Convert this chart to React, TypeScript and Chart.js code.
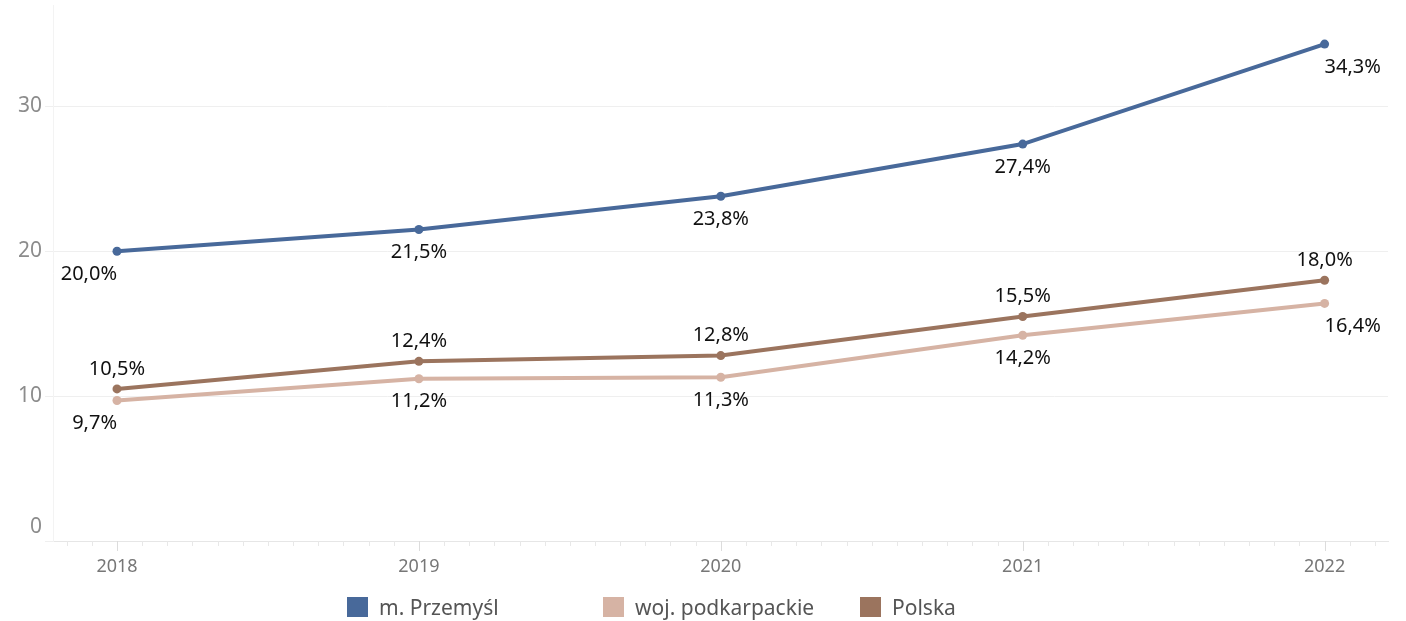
import React, { useEffect, useRef } from "react";
import { Chart, registerables } from "chart.js";

Chart.register(...registerables);

const years = [2018, 2019, 2020, 2021, 2022];
const przemysl = [20.0, 21.5, 23.8, 27.4, 34.3];
const podkarpackie = [9.7, 11.2, 11.3, 14.2, 16.4];
const polska = [10.5, 12.4, 12.8, 15.5, 18.0];
const yTickValues = [0, 10, 20, 30];
const xTickValues = [2018, 2019, 2020, 2021, 2022];
const seriesNames = ["m. Przemyśl", "woj. podkarpackie", "Polska"];
const seriesColors = ["#48699a", "#d6b3a4", "#9b745e"];
const labelSides = ["below", "below", "above"];

const fmt = (v: number) => v.toFixed(1).replace(".", ",") + "%";

const dataLabelPlugin = {
  id: "dataLabels",
  afterDatasetsDraw(chart: any) {
    const ctx = chart.ctx;
    ctx.save();
    ctx.font = '20px "Noto Sans"';
    ctx.fillStyle = "#111111";
    ctx.textBaseline = "middle";
    chart.data.datasets.forEach((ds: any, di: number) => {
      const meta = chart.getDatasetMeta(di);
      const side = labelSides[di];
      const last = meta.data.length - 1;
      meta.data.forEach((pt: any, i: number) => {
        const v = ds.data[i].y;
        let align = "center";
        if (side === "below") {
          if (i === 0) align = "right";
          else if (i === last) align = "left";
        }
        ctx.textAlign = align;
        const y = pt.y + (side === "below" ? 23 : -20);
        ctx.fillText(fmt(v), pt.x, y);
      });
    });
    ctx.restore();
  },
};

const axisDecorPlugin = {
  id: "axisDecor",
  afterDraw(chart: any) {
    const ctx = chart.ctx;
    const xs = chart.scales.x;
    const ys = chart.scales.y;
    const bottom = chart.chartArea.bottom;
    ctx.save();
    // month tick marks
    const start = Math.ceil(xs.min * 12);
    const end = Math.floor(xs.max * 12);
    for (let m = start; m <= end; m++) {
      const isMajor = m % 12 === 0;
      const px = Math.round(xs.getPixelForValue(m / 12)) + 0.5;
      ctx.strokeStyle = isMajor ? "#dcdcdc" : "#e8e8e8";
      ctx.lineWidth = 1;
      ctx.beginPath();
      ctx.moveTo(px, bottom);
      ctx.lineTo(px, bottom + (isMajor ? 10 : 5));
      ctx.stroke();
    }
    // x labels
    ctx.font = '18px "Noto Sans"';
    ctx.fillStyle = "#777777";
    ctx.textAlign = "center";
    ctx.textBaseline = "middle";
    xTickValues.forEach((v) => {
      ctx.fillText(String(v), xs.getPixelForValue(v), bottom + 26);
    });
    // y labels
    ctx.font = '21px "Noto Sans"';
    ctx.fillStyle = "#8c8c8c";
    ctx.textAlign = "right";
    ctx.textBaseline = "middle";
    yTickValues.forEach((v) => {
      let py = ys.getPixelForValue(v);
      if (v === 0) py -= 14;
      ctx.fillText(String(v), 42, py);
    });
    ctx.restore();
  },
};

export default function App() {
  const canvasRef = useRef<HTMLCanvasElement | null>(null);

  useEffect(() => {
    const canvas = canvasRef.current;
    if (!canvas) return;
    const seriesValues = [przemysl, podkarpackie, polska];
    const chart = new Chart(canvas, {
      type: "line",
      data: {
        datasets: seriesValues.map((vals, si) => ({
          label: seriesNames[si],
          data: years.map((yr, i) => ({ x: yr, y: vals[i] })),
          borderColor: seriesColors[si],
          backgroundColor: seriesColors[si],
          pointBackgroundColor: seriesColors[si],
          pointBorderColor: seriesColors[si],
          borderWidth: 4,
          pointRadius: 4.5,
          pointBorderWidth: 0,
          tension: 0,
          fill: false,
        })),
      },
      options: {
        animation: false,
        responsive: false,
        maintainAspectRatio: false,
        layout: { padding: { top: 5, right: 18, left: 0, bottom: 0 } },
        plugins: {
          legend: { display: false },
          tooltip: { enabled: false },
          title: { display: false },
        },
        scales: {
          x: {
            type: "linear",
            min: 2017.788,
            max: 2022.21,
            grid: { display: false, drawTicks: false },
            border: { display: true, color: "#e6e6e6", width: 1 },
            ticks: { display: false, stepSize: 1 },
            afterFit: (s: any) => {
              s.height = 80;
            },
          },
          y: {
            min: 0,
            max: 37,
            grid: {
              color: (c: any) =>
                c.tick && c.tick.value % 10 === 0 ? "#efefef" : "rgba(0,0,0,0)",
              lineWidth: 1,
              tickLength: 8,
              drawTicks: true,
            },
            border: { display: true, color: "#f3f3f3" },
            ticks: { stepSize: 10, display: false },
            afterFit: (s: any) => {
              s.width = 53;
            },
          },
        },
      },
      plugins: [dataLabelPlugin, axisDecorPlugin],
    });
    return () => chart.destroy();
  }, []);

  const legendLefts = [347, 603, 860];

  return (
    <div
      style={{
        position: "fixed",
        left: 0,
        top: 0,
        width: 1406,
        height: 621,
        background: "#ffffff",
        overflow: "hidden",
      }}
    >
      <canvas ref={canvasRef} width={1406} height={621} style={{ display: "block" }} />
      {seriesNames.map((name, i) => (
        <div
          key={name}
          style={{
            position: "absolute",
            left: legendLefts[i],
            top: 597,
            height: 20,
            display: "flex",
            alignItems: "center",
            fontFamily: '"Noto Sans", sans-serif',
            fontSize: 21,
            color: "#555555",
            whiteSpace: "nowrap",
          }}
        >
          <span
            style={{
              display: "inline-block",
              width: 21,
              height: 20,
              background: seriesColors[i],
              marginRight: 11,
              flex: "none",
            }}
          />
          <span style={{ lineHeight: "20px" }}>{name}</span>
        </div>
      ))}
    </div>
  );
}
